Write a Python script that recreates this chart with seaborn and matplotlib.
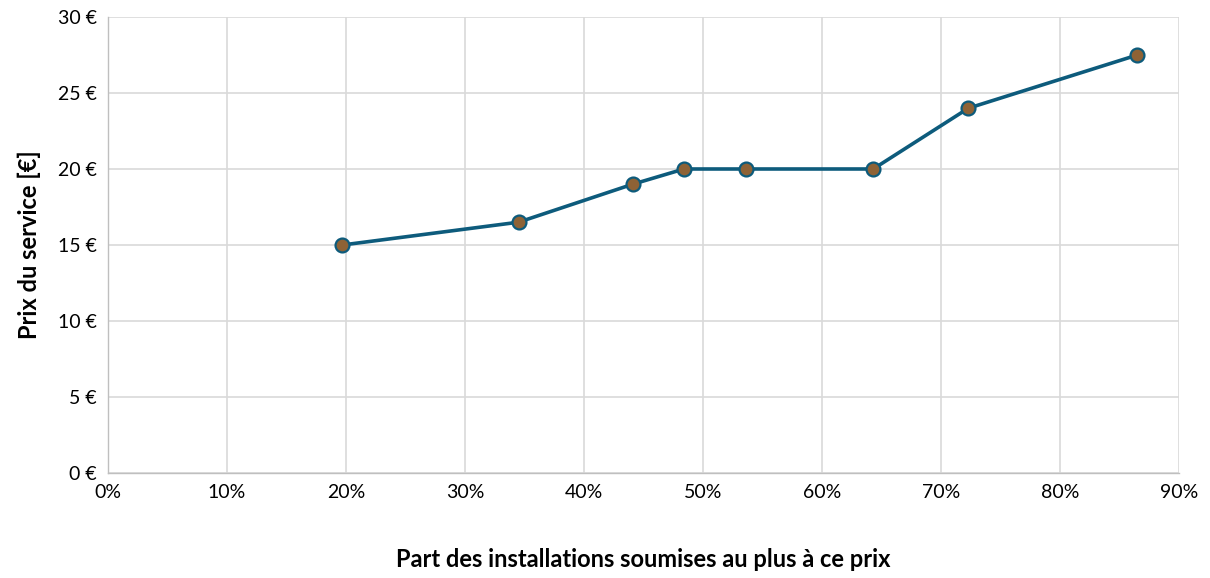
import matplotlib
matplotlib.use("Agg")
import matplotlib.pyplot as plt
import seaborn as sns
import pandas as pd
from matplotlib.ticker import FuncFormatter, MultipleLocator

share = [0.197, 0.345, 0.441, 0.484, 0.536, 0.643, 0.723, 0.865]
price = [15.0, 16.5, 19.0, 20.0, 20.0, 20.0, 24.0, 27.5]

df = pd.DataFrame({"share": share, "price": price})

sns.set_theme(style="whitegrid")
plt.rcParams['font.family'] = ['Lato', 'DejaVu Sans']

fig = plt.figure(figsize=(12.1, 5.78), dpi=100)
ax = fig.add_axes([0.0893, 0.1817, 0.8851, 0.7889])

line_c = "#0D5B7C"
sns.lineplot(data=df, x="share", y="price", ax=ax, color=line_c, linewidth=2.6,
             marker="o", markersize=10, markerfacecolor="#8E6235",
             markeredgecolor=line_c, markeredgewidth=1.6, zorder=3)

ax.set_xlim(0, 0.9)
ax.set_ylim(0, 30)
ax.xaxis.set_major_locator(MultipleLocator(0.1))
ax.yaxis.set_major_locator(MultipleLocator(5))
ax.xaxis.set_major_formatter(FuncFormatter(lambda v, p: f"{v*100:.0f}%"))
ax.yaxis.set_major_formatter(FuncFormatter(lambda v, p: f"{v:.0f} €"))

ax.grid(True, color="#D9D9D9", linewidth=1.2)
for s in ["top", "right"]:
    ax.spines[s].set_visible(False)
for s in ["left", "bottom"]:
    ax.spines[s].set_visible(True)
    ax.spines[s].set_color("#BFBFBF")
    ax.spines[s].set_linewidth(1.0)
ax.set_facecolor("white")

ax.tick_params(axis="both", labelsize=14, colors="#000000", length=0, pad=8)
ax.set_xlabel("Part des installations soumises au plus à ce prix", fontsize=17,
              fontweight="bold", labelpad=34, color="black")
ax.set_ylabel("Prix du service [€]", fontsize=17, fontweight="bold", labelpad=12,
              color="black")

fig.savefig("out.png", dpi=100, facecolor="white")
